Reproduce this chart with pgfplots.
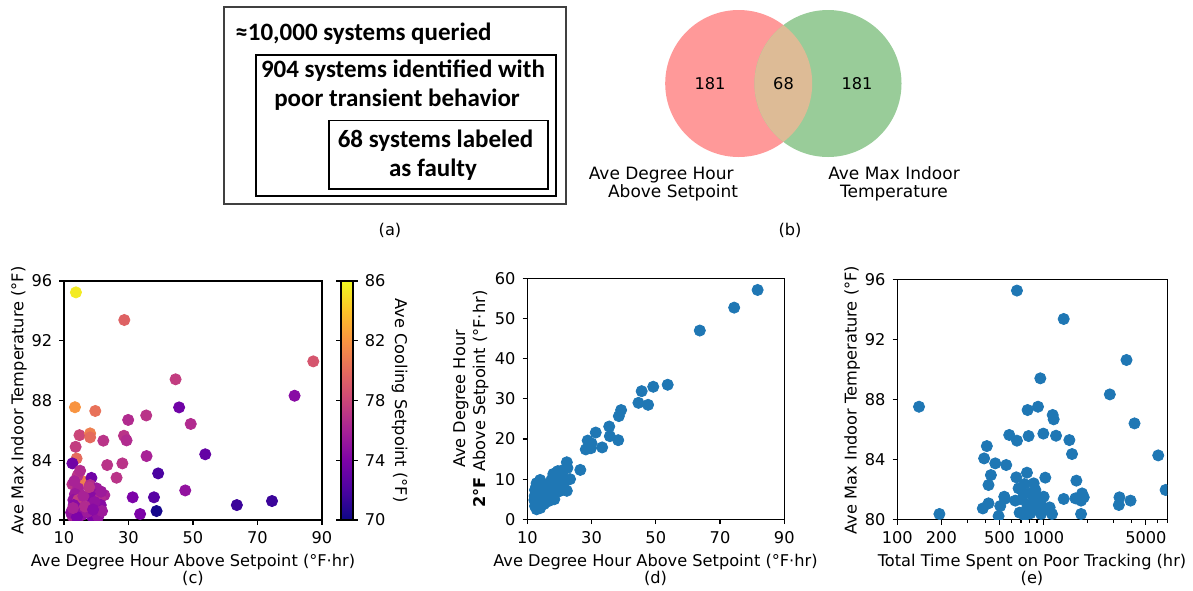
\documentclass[border=0pt]{standalone}
\usepackage{fontspec}
\setmainfont{DejaVu Sans}
\newfontfamily\calibri{Carlito}
\usepackage{pgfplots}
\usepackage{pgfplotstable}
\pgfplotsset{compat=1.18}

\definecolor{mplblue}{HTML}{1F77B4}
\definecolor{vennA}{HTML}{FF9999}
\definecolor{vennB}{HTML}{99CC99}
\definecolor{vennAB}{HTML}{DDBB96}
\newcommand\mplfont{\fontsize{8.1}{9.7}\selectfont}

\pgfplotsset{
  colormap={plasma}{rgb255=(13,8,135) rgb255=(75,3,161) rgb255=(125,3,168)
    rgb255=(168,34,150) rgb255=(203,70,121) rgb255=(229,107,93)
    rgb255=(248,148,65) rgb255=(253,195,40) rgb255=(240,249,33)},
  mpl/.style={
    scale only axis, anchor=south west,
    axis line style={line width=0.55pt},
    tick style={line width=0.55pt, black},
    tick align=outside,
    major tick length=2.4pt, minor tick length=1.4pt,
    tick pos=left,
    tick label style={font=\mplfont},
    /pgf/number format/assume math mode=true,
    clip marker paths=true,
  },
}

% c: degree hour, max indoor temperature, cooling setpoint
\pgfplotstableread{
dh   maxT  sp
15.5 82.63 81
13.7 95.24 85.5
28.7 93.39 79.5
87.3 90.62 78.8
44.6 89.42 77.5
81.5 88.32 74.5
13.4 87.55 82
45.7 87.54 73.5
19.7 87.30 80.3
35.5 87.00 77
29.9 86.70 76.5
49.3 86.43 76.5
14.8 85.68 78
18.1 85.80 81
18.1 85.53 80
28.6 85.64 77
22.2 85.31 77
29.4 85.33 76.5
13.6 84.90 77.5
13.9 84.12 80
35.6 84.28 76
53.8 84.40 73
12.6 83.79 73.5
23.4 83.68 77
28.1 83.79 77
39.2 83.12 72
14.2 82.97 77
18.5 82.82 73.5
26.3 82.83 77
12.6 82.39 77
14.4 82.12 76
18.1 82.34 76.5
20.1 82.12 75.5
47.6 81.98 75
13.4 81.74 75.5
20.6 81.74 75
22.5 81.67 76
12.9 81.34 75
14.4 81.34 77.5
18.4 81.52 74.5
21.2 81.45 76.5
31.3 81.52 74
37.9 81.52 72.5
13.6 80.85 75
17.5 80.85 76
21.4 81.00 74.5
12.6 80.27 76
15.5 80.33 75
18.6 80.27 74
20.6 80.22 75
33.6 80.40 74
38.7 80.60 70.3
63.6 81.00 71.5
74.5 81.27 71.5
12.2 80.50 75
17.3 80.55 75.5
13.0 81.00 74.5
16.0 81.60 76
19.5 81.20 75
21.8 80.60 75.5
14.0 80.20 74
16.5 80.90 76.5
19.0 80.70 74.5
13.2 82.60 76
21.5 81.90 75.5
17.8 82.20 77
15.0 83.30 76.5
12.8 80.80 76
}\tablec

% d: degree hour above setpoint vs. degree hour 2F above setpoint
\pgfplotstableread{
dh   dhtwo
81.7 57.1
74.4 52.7
63.7 47.0
53.7 33.5
49.2 33.0
45.6 31.9
44.6 29.0
47.6 28.5
39.2 27.2
38.5 25.7
35.5 23.1
31.3 21.6
35.7 20.7
38.3 19.7
28.8 19.6
30.0 18.9
28.2 17.4
29.8 17.7
33.3 17.9
26.5 12.3
22.3 14.2
20.7 12.1
23.3 10.0
18.1 11.3
19.7 10.5
21.2 9.1
22.3 7.1
19.2 8.0
18.4 5.0
17.1 6.9
14.0 9.8
12.9 9.0
12.4 7.3
12.6 6.0
12.2 4.8
12.4 3.3
12.9 2.5
15.0 4.8
14.5 6.9
16.0 5.6
16.5 8.1
13.5 4.0
13.0 5.5
13.8 7.5
14.2 5.0
12.8 8.2
13.2 3.5
15.5 6.5
14.8 8.5
16.8 4.6
18.8 9.5
20.0 7.0
21.0 10.5
19.5 12.0
22.5 12.8
17.5 9.8
13.6 8.8
12.5 4.3
15.2 3.8
14.0 2.8
16.2 7.2
18.0 6.2
20.5 8.5
21.5 7.8
13.0 6.6
12.3 5.8
14.6 4.4
19.0 10.8
}\tabled

% e: total time on poor tracking vs. max indoor temperature
\pgfplotstableread{
hr   maxT
140.7 87.52
657 95.25
1371 93.36
3684 90.63
2833 88.34
949 89.41
777 87.30
915 87.52
1153 86.97
1171 86.68
4178 86.41
582 85.64
657 85.26
789 85.57
995 85.73
1215 85.59
1499 85.30
1563 84.37
6067 84.28
409 84.90
392 84.08
467 83.75
555 83.64
436 82.97
420 82.31
650 82.82
769 83.13
1026 82.80
1674 82.60
674 82.09
738 82.37
855 82.42
878 81.98
803 81.75
1000 81.53
1371 81.38
1648 81.42
1831 81.75
1880 81.49
1802 81.27
3297 81.49
3924 81.27
3265 80.98
6813 81.98
538 81.53
640 81.27
711 81.35
505 80.91
384 80.75
420 81.09
492 80.24
685 80.47
769 80.75
855 80.91
811 80.42
924 80.64
960 80.38
1099 80.82
1141 80.38
1802 80.38
194 80.38
811 81.04
729 81.75
949 81.20
1026 80.75
545 81.40
740 80.30
860 81.60
}\tablee

\begin{document}
\begin{tikzpicture}
\useasboundingbox (0,0) rectangle (596.5pt,-295pt);

% ---------- (a) nested boxes ----------
\begin{scope}[x=0.5pt,y=-0.5pt]
  \draw[line width=1pt, black!75] (224,6.5) rectangle (565.5,204);
  \draw[line width=0.7pt] (256,55) rectangle (556,196);
  \draw[line width=0.7pt] (329,120.5) rectangle (548,189);
  \begin{scope}[every node/.style={inner sep=0, font=\calibri\bfseries\fontsize{12.5}{15}\selectfont}]
    \node[anchor=base west] at (235,40) {≈10,000 systems queried};
    \node[anchor=base] at (403,77.5) {904 systems identified with};
    \node[anchor=base] at (397,106.5) {poor transient behavior};
    \node[anchor=base] at (435.5,147.5) {68 systems labeled};
    \node[anchor=base] at (433,176) {as faulty};
  \end{scope}
  \begin{scope}[every node/.style={inner sep=0, font=\mplfont}]
    \node[anchor=base] at (390,235) {(a)};
    \node[anchor=base] at (790,235) {(b)};
    % bottom row captions
    \node[anchor=base] at (193,566) {Ave Degree Hour Above Setpoint (°F·hr)};
    \node[anchor=base] at (193,583) {(c)};
    \node[anchor=base] at (655.5,566) {Ave Degree Hour Above Setpoint (°F·hr)};
    \node[anchor=base] at (655.5,583) {(d)};
    \node[anchor=base] at (1032,566) {Total Time Spent on Poor Tracking (hr)};
    \node[anchor=base] at (1032,583) {(e)};
    % axis titles
    \node[anchor=base, rotate=90] at (23.3,400.5) {Ave Max Indoor Temperature (°F)};
    \node[anchor=base, rotate=-90] at (395,400.5) {Ave Cooling Setpoint (°F)};
    \node[anchor=base, rotate=90] at (465,399) {Ave Degree Hour};
    \node[anchor=base, rotate=90] at (485,399) {\textbf{2°F} Above Setpoint (°F·hr)};
    \node[anchor=base, rotate=90] at (856.5,400) {Ave Max Indoor Temperature (°F)};
  \end{scope}
\end{scope}

% ---------- (b) Venn diagram ----------
\begin{axis}[hide axis, clip=false, anchor=south west, at={(290pt,-120pt)},
  x=0.5pt, y=0.5pt, xmin=580, xmax=950, ymin=-240, ymax=0]
  \fill[vennA] (axis cs:738.7,-83.5) circle[radius=73.5];
  \fill[vennB] (axis cs:828,-83.5) circle[radius=73.5];
  \begin{scope}
    \clip (axis cs:738.7,-83.5) circle[radius=73.5];
    \fill[vennAB] (axis cs:828,-83.5) circle[radius=73.5];
  \end{scope}
  \node[font=\mplfont, anchor=base, inner sep=0] at (axis cs:710,-89.3) {181};
  \node[font=\mplfont, anchor=base, inner sep=0] at (axis cs:783.5,-89.3) {68};
  \node[font=\mplfont, anchor=base, inner sep=0] at (axis cs:857,-89.3) {181};
  \node[font=\fontsize{8.5}{10}\selectfont, anchor=base east, inner sep=0] at (axis cs:734,-179) {Ave Degree Hour};
  \node[font=\fontsize{8.5}{10}\selectfont, anchor=base east, inner sep=0] at (axis cs:738.5,-197) {Above Setpoint};
  \node[font=\fontsize{8.5}{10}\selectfont, anchor=base, inner sep=0] at (axis cs:894,-179) {Ave Max Indoor};
  \node[font=\fontsize{8.5}{10}\selectfont, anchor=base, inner sep=0] at (axis cs:894,-197) {Temperature};
\end{axis}

% ---------- (c) coloured by cooling setpoint ----------
\begin{axis}[mpl, at={(32pt,-260pt)}, width=129pt, height=119.5pt,
  xmin=10, xmax=90, ymin=80, ymax=96,
  xtick={10,30,50,70,90}, ytick={80,84,88,92,96},
  colormap name=plasma, point meta min=70, point meta max=86,
  colorbar,
  colorbar shift/.style={xshift=9.5pt},
  colorbar style={
    at={(parent axis.north east)}, anchor=north west,
    width=6pt, scale only axis,
    ytick={70,74,78,82,86},
    tick align=outside, major tick length=2.4pt,
    axis line style={line width=0.55pt},
    tick style={line width=0.55pt, black},
    yticklabel style={font=\mplfont},
    /pgf/number format/assume math mode=true,
  }]
  \addplot[scatter, only marks, mark=*, mark size=2.8pt,
    scatter src=explicit,
    scatter/use mapped color={draw=mapped color, fill=mapped color}]
    table[x=dh, y=maxT, meta=sp] {\tablec};
\end{axis}

% ---------- (d) ----------
\begin{axis}[mpl, at={(263.65pt,-259.65pt)}, width=128.5pt, height=120.5pt,
  xmin=10, xmax=90, ymin=0, ymax=60,
  xtick={10,30,50,70,90}, ytick={0,10,...,60}]
  \addplot[only marks, mark=*, mark size=2.8pt, mark options={draw=mplblue, fill=mplblue}]
    table[x=dh, y=dhtwo] {\tabled};
\end{axis}

% ---------- (e) ----------
\begin{axis}[mpl, at={(448.65pt,-259.85pt)}, width=135pt, height=120.2pt,
  xmode=log, xmin=100, xmax=7000, ymin=80, ymax=96,
  xtick={100,200,500,1000,5000}, xticklabels={100,200,500,1000,5000},
  minor xtick={300,400,600,700,800,900,2000,3000,4000,6000,7000},
  ytick={80,84,88,92,96}]
  \addplot[only marks, mark=*, mark size=2.8pt, mark options={draw=mplblue, fill=mplblue}]
    table[x=hr, y=maxT] {\tablee};
\end{axis}
\end{tikzpicture}
\end{document}
